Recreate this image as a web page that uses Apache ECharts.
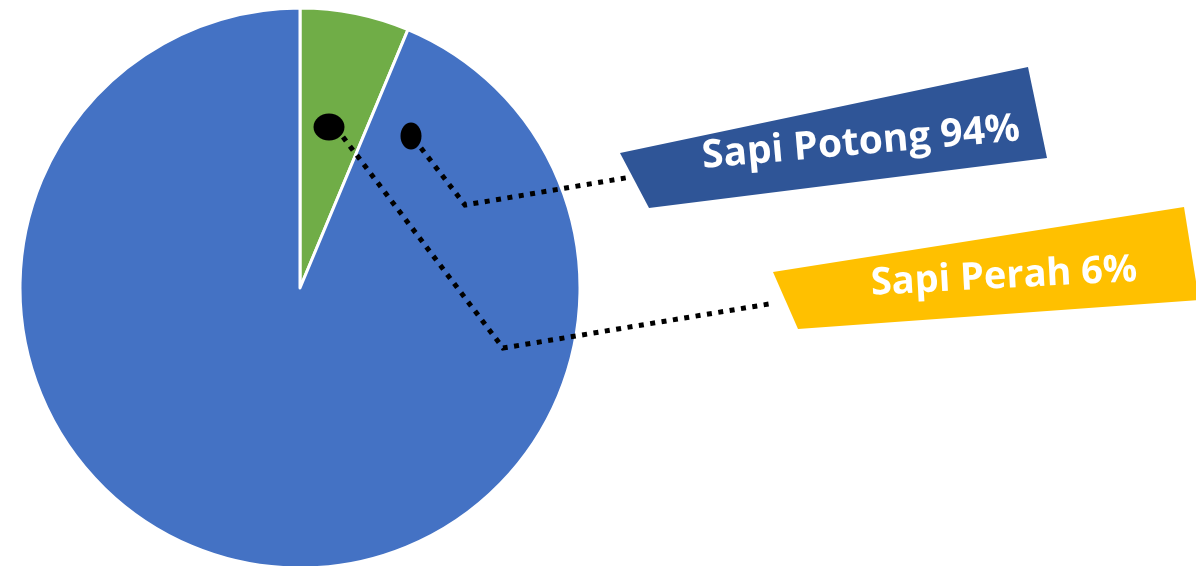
<!DOCTYPE html>
<html>
<head>
<meta charset="utf-8">
<script src="https://cdn.jsdelivr.net/npm/echarts@6/dist/echarts.min.js"></script>
<style>
  html, body { margin: 0; padding: 0; background: #fff; }
  #chart { width: 1196px; height: 566px; }
</style>
</head>
<body>
<div id="chart"></div>
<script>
var categories = ['Sapi Perah', 'Sapi Potong'];
var values = [6.3, 93.7];
var sliceColors = ['#70AD47', '#4472C4'];
var boxColors = ['#FFC000', '#2F5597'];

// hand placed callouts (tilted boxes, dots, elbow lines)
var callouts = [
    {
        text: [1004, 277], rotate: 3, fontSize: 38,
        dot: [329, 127, 15.5, 13.5],
        line: [[343, 137], [503, 348], [775, 303]],
        box: [[773, 272], [1184, 207], [1199, 300], [798, 329]]
    },
    {
        text: [861, 143], rotate: 5, fontSize: 39,
        dot: [411, 136, 10.5, 13.5],
        line: [[421, 148], [465, 205], [631, 177]],
        box: [[620, 153], [1028, 67], [1047, 158], [649, 208]]
    }
];

var chart = echarts.init(document.getElementById('chart'));

var graphics = [];
callouts.forEach(function (c, i) {
    graphics.push({
        type: 'polygon', z: 1,
        shape: { points: c.box },
        style: { fill: boxColors[i] }
    });
    graphics.push({
        type: 'polyline', z: 10,
        shape: { points: c.line },
        style: { stroke: '#000', lineWidth: 5, lineDash: [5, 6.5], fill: null }
    });
    graphics.push({
        type: 'ellipse', z: 11,
        shape: { cx: c.dot[0], cy: c.dot[1], rx: c.dot[2], ry: c.dot[3] },
        style: { fill: '#000' }
    });
});

chart.setOption({
    animation: false,
    graphic: graphics,
    series: [
        {
            type: 'pie',
            center: [300, 288],
            radius: 280,
            startAngle: 90,
            clockwise: true,
            avoidLabelOverlap: false,
            itemStyle: { borderColor: '#fff', borderWidth: 3 },
            label: {
                show: true,
                position: 'outside',
                formatter: function (p) {
                    return p.name + ' ' + Math.round(p.value) + '%';
                },
                color: '#fff',
                fontFamily: 'Open Sans',
                fontWeight: 'bold',
                fontSize: 38
            },
            labelLine: { show: false },
            labelLayout: function (params) {
                var c = callouts[params.dataIndex];
                return {
                    x: c.text[0], y: c.text[1],
                    rotate: c.rotate,
                    fontSize: c.fontSize,
                    align: 'center',
                    verticalAlign: 'middle'
                };
            },
            data: categories.map(function (name, i) {
                return { name: name, value: values[i], itemStyle: { color: sliceColors[i] } };
            })
        }
    ]
});
</script>
</body>
</html>
